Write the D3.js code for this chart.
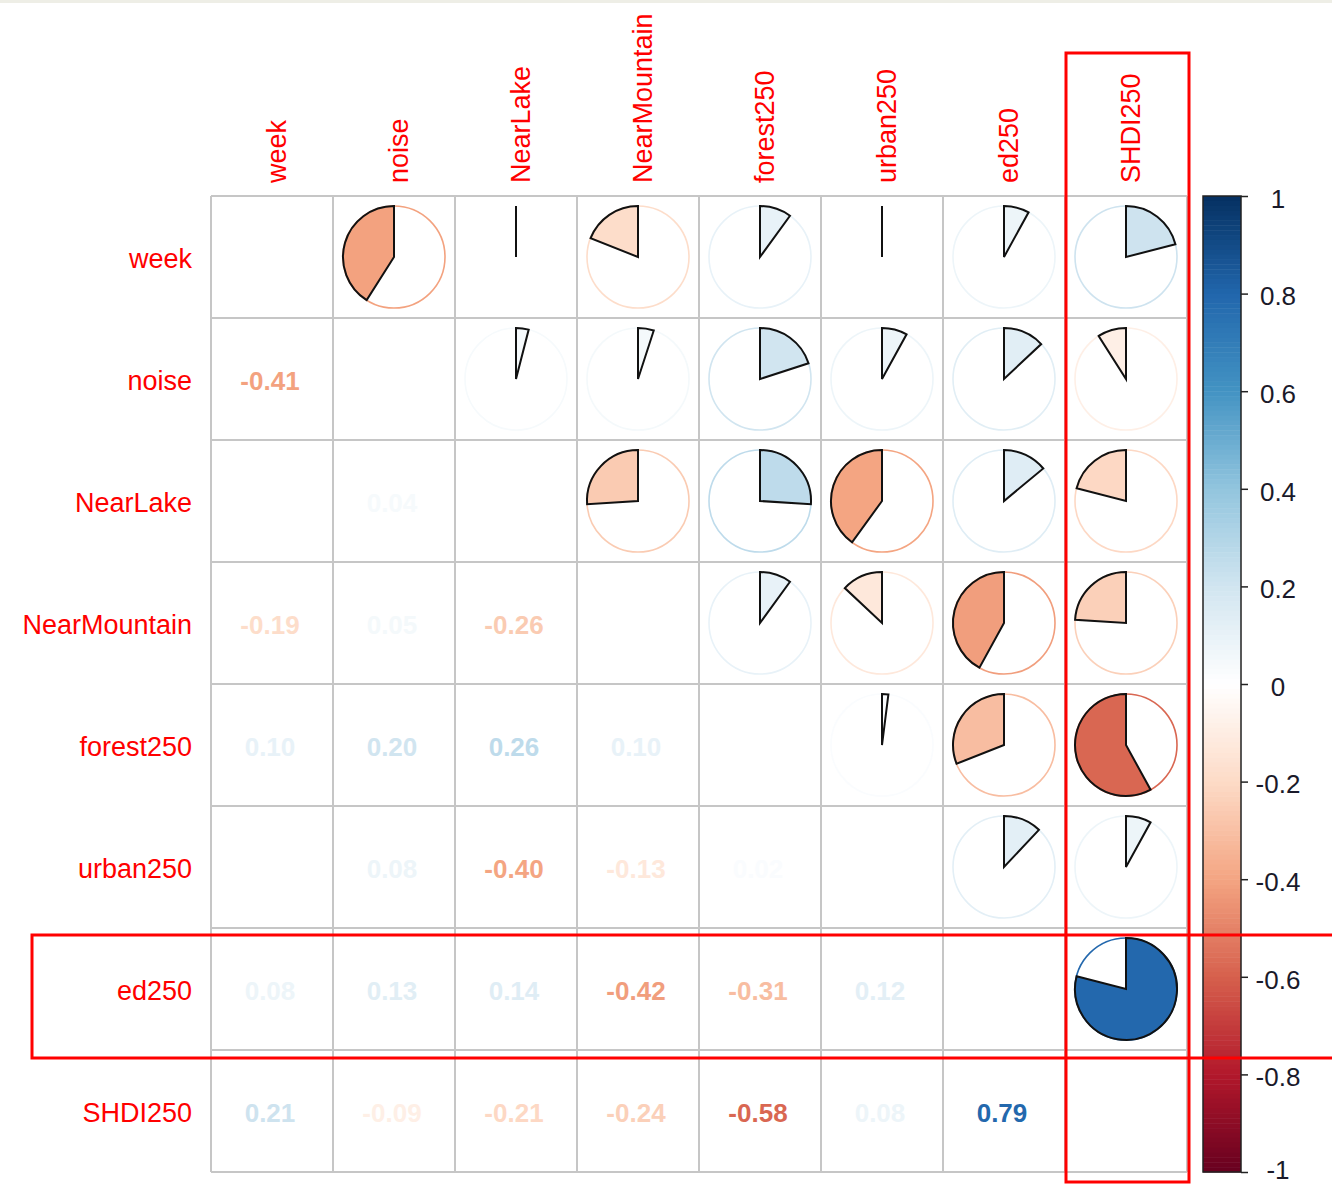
<!DOCTYPE html>
<html>
<head>
<meta charset="utf-8">
<script src="https://cdn.jsdelivr.net/npm/d3@7"></script>
<style>
  html, body { margin: 0; padding: 0; background: #ffffff; }
  svg { display: block; }
</style>
</head>
<body>
<script>
// Variables of the correlation matrix (rows and columns share the order)
const variables = ["week", "noise", "NearLake", "NearMountain", "forest250", "urban250", "ed250", "SHDI250"];

// Lower-triangle correlation coefficients, one array per row
const rowWeek         = [];
const rowNoise        = [-0.41];
const rowNearLake     = [0.00, 0.04];
const rowNearMountain = [-0.19, 0.05, -0.26];
const rowForest250    = [0.10, 0.20, 0.26, 0.10];
const rowUrban250     = [0.00, 0.08, -0.40, -0.13, 0.02];
const rowEd250        = [0.08, 0.13, 0.14, -0.42, -0.31, 0.12];
const rowSHDI250      = [0.21, -0.09, -0.21, -0.24, -0.58, 0.08, 0.79];
const lowerRows = [rowWeek, rowNoise, rowNearLake, rowNearMountain, rowForest250, rowUrban250, rowEd250, rowSHDI250];

// Colour legend ticks
const legendTicks = [1, 0.8, 0.6, 0.4, 0.2, 0, -0.2, -0.4, -0.6, -0.8, -1];
const legendTickLabels = ["1", "0.8", "0.6", "0.4", "0.2", "0", "-0.2", "-0.4", "-0.6", "-0.8", "-1"];

// RdBu diverging palette
const paletteRdBu = ["#67001F", "#B2182B", "#D6604D", "#F4A582", "#FDDBC7", "#FFFFFF",
                     "#D1E5F0", "#92C5DE", "#4393C3", "#2166AC", "#053061"];

const W = 1332, H = 1187;
const svg = d3.select("body").append("svg").attr("width", W).attr("height", H);

// Thin light strip along the top edge
svg.append("rect").attr("x", 0).attr("y", 0).attr("width", W).attr("height", 3).attr("fill", "#eeeee6");

const n = variables.length;
const gridLeft = 211, gridTop = 196, cell = 122;

const x = d3.scaleBand().domain(variables).range([gridLeft, gridLeft + n * cell]).padding(0);
const y = d3.scaleBand().domain(variables).range([gridTop, gridTop + n * cell]).padding(0);

const color = d3.scaleLinear()
  .domain(d3.range(paletteRdBu.length).map(i => -1 + 2 * i / (paletteRdBu.length - 1)))
  .range(paletteRdBu)
  .interpolate(d3.interpolateRgb);

const fmt = d3.formatLocale({decimal: ".", thousands: ",", grouping: [3], currency: ["", ""], minus: "-"}).format(".2f");

// Full symmetric matrix built from the lower triangle
const corr = variables.map((_, i) => variables.map((_, j) => {
  if (i === j) return 1;
  return i > j ? lowerRows[i][j] : lowerRows[j][i];
}));

const cells = [];
variables.forEach((rv, i) => variables.forEach((cv, j) => cells.push({i, j, row: rv, col: cv, r: corr[i][j]})));

// Grid
const grid = svg.append("g").attr("stroke", "#c6c6c6").attr("stroke-width", 2);
for (let k = 0; k <= n; k++) {
  const gx = gridLeft + k * cell, gy = gridTop + k * cell;
  grid.append("line").attr("x1", gx).attr("x2", gx).attr("y1", gridTop).attr("y2", gridTop + n * cell);
  grid.append("line").attr("y1", gy).attr("y2", gy).attr("x1", gridLeft).attr("x2", gridLeft + n * cell);
}

// Upper triangle: pies
const radius = 51;
const arc = d3.arc().innerRadius(0).outerRadius(radius);
const upper = svg.append("g").selectAll("g.pie")
  .data(cells.filter(d => d.j > d.i))
  .join("g")
  .attr("class", "pie")
  .attr("transform", d => `translate(${x(d.col) + x.bandwidth() / 2},${y(d.row) + y.bandwidth() / 2})`);

upper.append("circle")
  .attr("r", radius)
  .attr("fill", "none")
  .attr("stroke", d => color(d.r))
  .attr("stroke-width", 1.6);

upper.each(function(d) {
  const g = d3.select(this);
  if (Math.abs(d.r) < 0.005) {
    g.append("line").attr("x1", 0).attr("y1", 0).attr("x2", 0).attr("y2", -radius)
      .attr("stroke", "#111").attr("stroke-width", 2);
  } else {
    g.append("path")
      .attr("d", arc({startAngle: 0, endAngle: d.r * 2 * Math.PI}))
      .attr("fill", color(d.r))
      .attr("stroke", "#111")
      .attr("stroke-width", 2)
      .attr("stroke-linejoin", "miter");
  }
});

// Lower triangle: coefficients as text
svg.append("g").selectAll("text")
  .data(cells.filter(d => d.j < d.i))
  .join("text")
  .attr("x", d => x(d.col) + x.bandwidth() / 2 - 2)
  .attr("y", d => y(d.row) + y.bandwidth() / 2 + 2)
  .attr("text-anchor", "middle")
  .attr("dy", "0.35em")
  .attr("font-family", "'Liberation Sans', Arial, sans-serif")
  .attr("font-weight", "bold")
  .attr("font-size", 26)
  .attr("fill", d => color(d.r))
  .text(d => fmt(d.r));

// Row labels
svg.append("g").selectAll("text")
  .data(variables)
  .join("text")
  .attr("x", 192)
  .attr("y", d => y(d) + y.bandwidth() / 2 + 2)
  .attr("dy", "0.35em")
  .attr("text-anchor", "end")
  .attr("font-family", "'Liberation Sans', Arial, sans-serif")
  .attr("font-size", 27)
  .attr("fill", "#ff0000")
  .text(d => d);

// Column labels (rotated)
svg.append("g").selectAll("text")
  .data(variables)
  .join("text")
  .attr("transform", d => `translate(${x(d) + x.bandwidth() / 2 + 5},183) rotate(-90)`)
  .attr("dy", "0.35em")
  .attr("text-anchor", "start")
  .attr("font-family", "'Liberation Sans', Arial, sans-serif")
  .attr("font-size", 27)
  .attr("fill", "#ff0000")
  .text(d => d);

// Colour legend
const barX = 1203, barW = 38;
const ly = d3.scaleLinear().domain([1, -1]).range([gridTop, gridTop + n * cell]);
const steps = 200;
const legend = svg.append("g");
legend.selectAll("rect.step")
  .data(d3.range(steps))
  .join("rect")
  .attr("class", "step")
  .attr("x", barX)
  .attr("width", barW)
  .attr("y", k => ly(1 - 2 * k / steps))
  .attr("height", k => ly(1 - 2 * (k + 1) / steps) - ly(1 - 2 * k / steps) + 0.5)
  .attr("fill", k => color(1 - 2 * (k + 0.5) / steps));
legend.append("rect")
  .attr("x", barX).attr("y", ly(1)).attr("width", barW).attr("height", ly(-1) - ly(1))
  .attr("fill", "none").attr("stroke", "#222").attr("stroke-width", 1.5);

const legendAxis = d3.axisRight(ly)
  .tickValues(legendTicks)
  .tickSize(7)
  .tickFormat((d, k) => legendTickLabels[k]);
const axisG = legend.append("g").attr("transform", `translate(${barX + barW},0)`).call(legendAxis);
axisG.select(".domain").remove();
axisG.selectAll(".tick line").attr("stroke", "#222").attr("stroke-width", 1.5);
axisG.selectAll(".tick text")
  .attr("x", 37)
  .attr("y", d => d === -1 ? -2 : 3)
  .attr("text-anchor", "middle")
  .attr("font-family", "'Liberation Sans', Arial, sans-serif")
  .attr("font-size", 26)
  .attr("fill", "#1a1a2a");

// Highlight boxes around the ed250 row and SHDI250 column
const marks = svg.append("g").attr("fill", "none").attr("stroke", "#ff0000").attr("stroke-width", 3);
marks.append("rect")
  .attr("x", x("SHDI250") + 1).attr("y", 53)
  .attr("width", x.bandwidth() + 1).attr("height", 1182 - 53);
marks.append("rect")
  .attr("x", 32).attr("y", y("ed250") + 7)
  .attr("width", W + 10 - 32).attr("height", y.bandwidth() + 1);
</script>
</body>
</html>
